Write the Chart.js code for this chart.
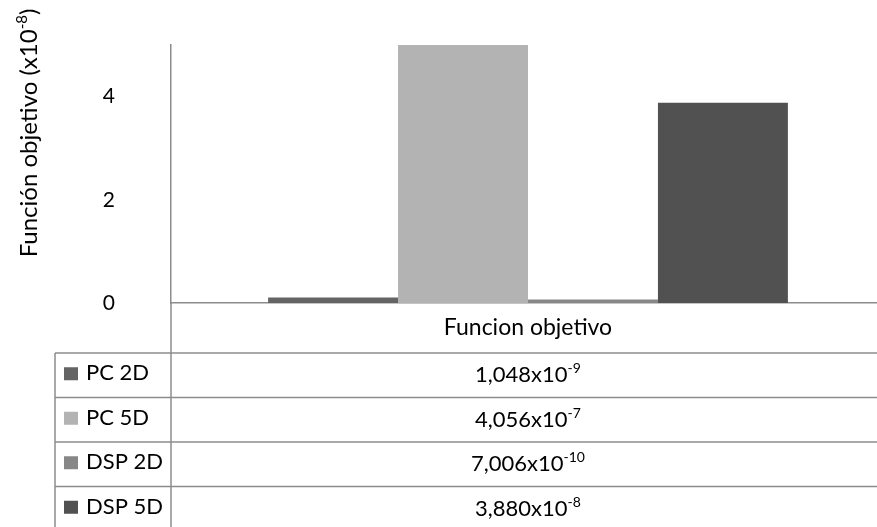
<!DOCTYPE html>
<html>
<head>
<meta charset="utf-8">
<script src="https://cdn.jsdelivr.net/npm/chart.js@4.4.0/dist/chart.umd.min.js"></script>
<style>
  html, body { margin: 0; padding: 0; background: #fff; overflow: hidden; }
  /* plot runs a little past the right edge of the window */
  #wrap { width: 877px; height: 527px; overflow: hidden; }
</style>
</head>
<body>
<div id="wrap"><canvas id="chart" width="885" height="527"></canvas></div>
<script>
// one category, four series; values are mantissa x 10^exponent
const CATEGORY = 'Funcion objetivo';
const SERIES = ['PC 2D', 'PC 5D', 'DSP 2D', 'DSP 5D'];
const MANTISSA = [1.048, 4.056, 7.006, 3.880];
const EXPONENT = [-9, -7, -10, -8];
const COLORS = ['#646464', '#b3b3b3', '#878787', '#515151'];

// y axis is shown in units of 10^-8
const Y_EXP = -8;
const Y_TICKS = [0, 2, 4];
const Y_MAX = 5;

const FONT = 'Lato, "Open Sans", sans-serif';
const LINE = '#8c8c8c';

const scaled = MANTISSA.map((m, i) => m * Math.pow(10, EXPONENT[i] - Y_EXP));

function fmtMantissa(m) {
  return m.toFixed(3).replace('.', ',');
}

// draws text runs (some superscript) centred on x, baseline at y
function drawRich(ctx, parts, x, y, size) {
  const supSize = Math.round(size * 0.62);
  const widths = parts.map(p => {
    ctx.font = `${p.sup ? supSize : size}px ${FONT}`;
    return ctx.measureText(p.t).width;
  });
  let cx = x - widths.reduce((a, b) => a + b, 0) / 2;
  ctx.textAlign = 'left';
  ctx.textBaseline = 'alphabetic';
  parts.forEach((p, i) => {
    ctx.font = `${p.sup ? supSize : size}px ${FONT}`;
    ctx.fillText(p.t, cx, p.sup ? y - size * 0.42 : y);
    cx += widths[i];
  });
}

function line(ctx, x1, y1, x2, y2) {
  ctx.beginPath();
  ctx.moveTo(x1, y1);
  ctx.lineTo(x2, y2);
  ctx.stroke();
}

// data table under the plot + rotated y title
const dataTable = {
  id: 'dataTable',
  afterDraw(chart) {
    const { ctx, chartArea: a } = chart;
    const headH = 50, rowH = 44.5, left = 55;
    const top = a.bottom + headH;
    const cx = (a.left + a.right) / 2;

    ctx.save();
    ctx.strokeStyle = LINE;
    ctx.lineWidth = 1.5;
    line(ctx, a.left, a.bottom, a.left, chart.height);
    line(ctx, left, top, left, chart.height);
    for (let i = 0; i <= SERIES.length; i++) {
      const y = top + i * rowH;
      line(ctx, left, y, chart.width, y);
    }

    ctx.fillStyle = '#000';
    ctx.font = `23px ${FONT}`;
    ctx.textAlign = 'center';
    ctx.textBaseline = 'alphabetic';
    ctx.fillText(CATEGORY, cx, a.bottom + headH / 2 + 7);

    SERIES.forEach((name, i) => {
      const ym = top + i * rowH + rowH / 2;
      ctx.fillStyle = COLORS[i];
      ctx.fillRect(64, ym - 8, 14, 13);
      ctx.fillStyle = '#000';
      ctx.font = `22px ${FONT}`;
      ctx.textAlign = 'left';
      ctx.fillText(name, 86, ym + 5);
      drawRich(ctx, [
        { t: fmtMantissa(MANTISSA[i]) + 'x10' },
        { t: String(EXPONENT[i]), sup: true }
      ], cx, ym + 7, 22);
    });

    ctx.translate(37, 133);
    ctx.rotate(-Math.PI / 2);
    drawRich(ctx, [
      { t: 'Función objetivo (x10' },
      { t: String(Y_EXP), sup: true },
      { t: ')' }
    ], 0, 0, 24);
    ctx.restore();
  }
};

new Chart(document.getElementById('chart'), {
  type: 'bar',
  data: {
    labels: [CATEGORY],
    datasets: SERIES.map((s, i) => ({
      label: s,
      data: [scaled[i]],
      backgroundColor: COLORS[i],
      borderWidth: 0,
    })),
  },
  options: {
    responsive: false,
    animation: false,
    layout: { padding: { top: 45, right: 0, bottom: 0, left: 0 } },
    datasets: { bar: { categoryPercentage: 0.728, barPercentage: 1 } },
    plugins: {
      legend: { display: false },
      tooltip: { enabled: false },
    },
    scales: {
      x: {
        grid: { display: false },
        ticks: { display: false },
        border: { color: LINE, width: 1.5 },
        afterFit: s => { s.height = 224; },
      },
      y: {
        min: 0,
        max: Y_MAX,
        grid: { display: false, drawTicks: false },
        border: { color: LINE, width: 1.5 },
        afterBuildTicks: s => { s.ticks = Y_TICKS.map(v => ({ value: v })); },
        ticks: { color: '#000', font: { family: FONT, size: 21 }, padding: 56 },
        afterFit: s => {
          s.width = 171;
          s.paddingTop = 0;
          s.paddingBottom = 0;
        },
      },
    },
  },
  plugins: [dataTable],
});
</script>
</body>
</html>
